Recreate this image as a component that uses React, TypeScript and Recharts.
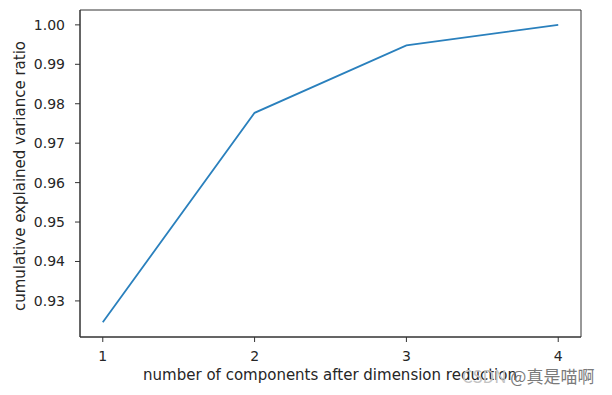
import React from 'react';
import { LineChart, Line, XAxis, YAxis, ReferenceArea } from 'recharts';

const components = [1, 2, 3, 4];
const cumulativeRatio = [0.9246, 0.9777, 0.9948, 1.0];
const xTicks = [1, 2, 3, 4];
const yTicks = [0.93, 0.94, 0.95, 0.96, 0.97, 0.98, 0.99, 1.0];

const data = components.map((c, i) => ({ n: c, v: cumulativeRatio[i] }));

const X_DOMAIN: [number, number] = [0.85, 4.15];
const Y_DOMAIN: [number, number] = [0.92085, 1.00377];

const FONT = 'DejaVu Sans, sans-serif';
const TEXT = '#262626';

export default function App() {
  return (
    <div style={{ position: 'absolute', left: 0, top: 0, width: 612, height: 395, background: '#fff' }}>
      <LineChart
        width={612}
        height={395}
        data={data}
        margin={{ top: 10, right: 31, bottom: 28, left: 20 }}
      >
        <XAxis
          dataKey="n"
          type="number"
          domain={X_DOMAIN}
          ticks={xTicks}
          allowDataOverflow
          height={30}
          axisLine={{ stroke: '#333', strokeWidth: 1 }}
          tickLine={{ stroke: '#333', strokeWidth: 1 }}
          tickSize={5}
          tickMargin={9}
          tick={{ fill: TEXT, fontSize: 14, fontFamily: FONT }}
          label={(p: any) => (
            <text x={330} y={380} textAnchor="middle" fill={TEXT} fontSize={15} fontFamily={FONT}>
              number of components after dimension reduction
            </text>
          )}
        />
        <YAxis
          type="number"
          domain={Y_DOMAIN}
          ticks={yTicks}
          allowDataOverflow
          width={60}
          axisLine={{ stroke: '#333', strokeWidth: 1 }}
          tickLine={{ stroke: '#333', strokeWidth: 1 }}
          tickSize={5}
          tickMargin={10}
          tickFormatter={(v: number) => v.toFixed(2)}
          tick={{ fill: TEXT, fontSize: 14, fontFamily: FONT }}
          label={(p: any) => (
            <text
              x={25}
              y={176}
              transform="rotate(-90 25 176)"
              textAnchor="middle"
              fill={TEXT}
              fontSize={15}
              fontFamily={FONT}
            >
              cumulative explained variance ratio
            </text>
          )}
        />
        <ReferenceArea
          x1={X_DOMAIN[0]}
          x2={X_DOMAIN[1]}
          y1={Y_DOMAIN[0]}
          y2={Y_DOMAIN[1]}
          fill="none"
          stroke="#333"
          strokeWidth={1}
          ifOverflow="visible"
        />
        <Line
          dataKey="v"
          stroke="#2a80bd"
          strokeWidth={1.8}
          dot={false}
          activeDot={false}
          isAnimationActive={false}
        />
      </LineChart>
      <svg
        width={612}
        height={395}
        style={{ position: 'absolute', left: 0, top: 0, pointerEvents: 'none' }}
      >
        <text x={462} y={383} fontSize={17} fontFamily="Noto Sans CJK SC, sans-serif">
          <tspan fill="#c4c4c4">CSDN</tspan>
          <tspan fill="#7a7a7a"> @真是喵啊</tspan>
        </text>
      </svg>
    </div>
  );
}
